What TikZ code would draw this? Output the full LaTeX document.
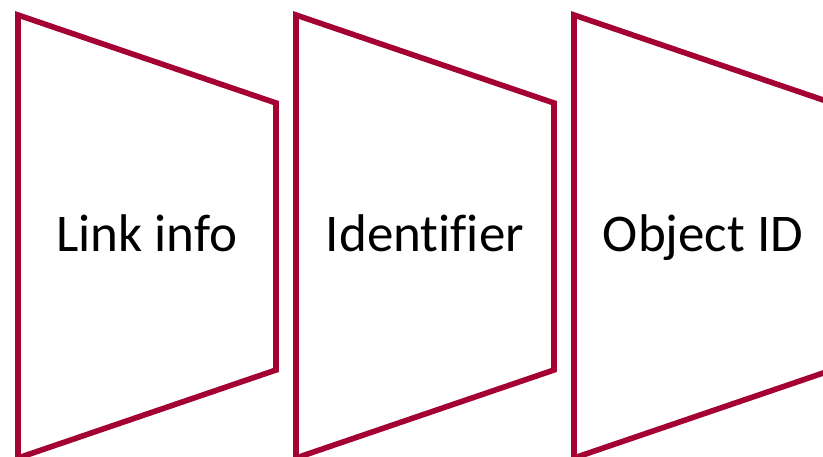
\documentclass[tikz,border=0pt]{standalone}
\usepackage{fontspec}
\setmainfont{Carlito}[Ligatures={NoCommon}]
\definecolor{chev}{RGB}{163,2,50}
\begin{document}
\begin{tikzpicture}[x=1pt,y=-1pt,
  trap/.style={draw=chev,line width=5.6pt,line join=miter},
  lbl/.style={font=\fontsize{53}{60}\selectfont,text=black,inner sep=0pt,anchor=base}]
\useasboundingbox (0,0) rectangle (823,456);
\clip (0,0) rectangle (823,456);
\foreach \x/\n in {18/a,296/b,574/c}{
  \draw[trap] (\x,15) -- (\x+258,103) -- (\x+258,370) -- (\x,458) -- cycle;
}
\node[lbl] (t1) at (147,251) {Link info};
\node[lbl] (t2) at (425,251) {Identifier};
\node[lbl] (t3) at (703,251) {Object ID};
\end{tikzpicture}
\end{document}
